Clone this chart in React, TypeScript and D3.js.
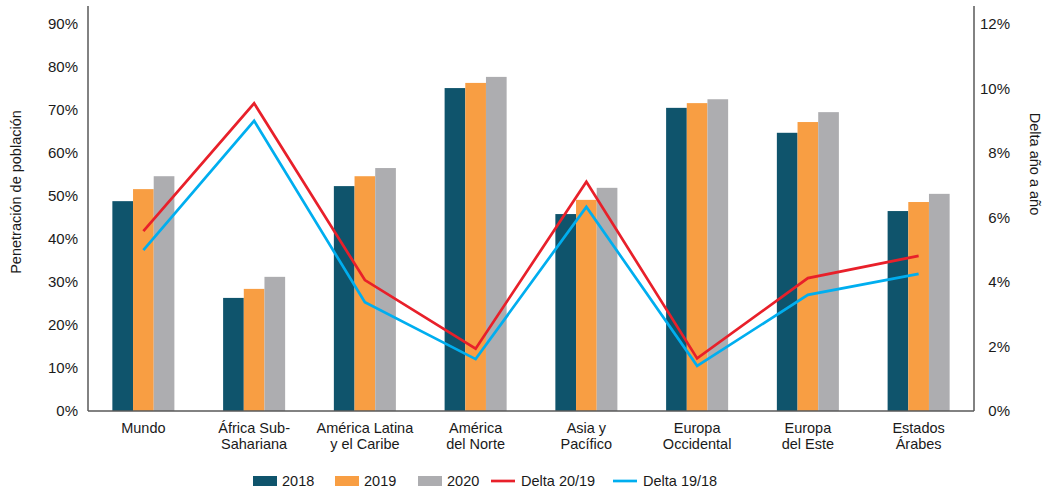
import React from "react";
import * as d3 from "d3";

// Regions, split into display lines for the category axis
const regions = [
  "Mundo",
  "África Sub-Sahariana",
  "América Latina y el Caribe",
  "América del Norte",
  "Asia y Pacífico",
  "Europa Occidental",
  "Europa del Este",
  "Estados Árabes",
];
const regionLines = [
  ["Mundo"],
  ["África Sub-", "Sahariana"],
  ["América Latina", "y el Caribe"],
  ["América", "del Norte"],
  ["Asia y", "Pacífico"],
  ["Europa", "Occidental"],
  ["Europa", "del Este"],
  ["Estados", "Árabes"],
];

// Population penetration by year
const years = ["2018", "2019", "2020"];
const pen2018 = [0.488, 0.263, 0.523, 0.751, 0.458, 0.705, 0.647, 0.465];
const pen2019 = [0.516, 0.284, 0.546, 0.763, 0.491, 0.716, 0.672, 0.486];
const pen2020 = [0.546, 0.312, 0.565, 0.777, 0.519, 0.725, 0.695, 0.505];

// Year-over-year deltas (right axis)
const delta2019 = [0.0558, 0.0954, 0.0406, 0.0193, 0.0711, 0.0163, 0.0412, 0.0481];
const delta1918 = [0.0499, 0.09, 0.0337, 0.0161, 0.0633, 0.014, 0.036, 0.0425];

const leftTicks = [0, 0.1, 0.2, 0.3, 0.4, 0.5, 0.6, 0.7, 0.8, 0.9];
const rightTicks = [0, 0.02, 0.04, 0.06, 0.08, 0.1, 0.12];

const barColors = ["#0F546C", "#F89E43", "#ADADB0"];
const lineColors = { d2019: "#E8202A", d1918: "#00AEEF" };

const W = 1043;
const H = 491;
const left = 88;
const right = 974;
const top = 6;
const bottom = 411;
const FONT = "'Liberation Sans', Arial, sans-serif";
const TEXT = "#1a1a1a";
const AXIS = "#595959";

export default function App() {
  const x = d3
    .scaleBand<string>()
    .domain(regions)
    .range([left, right])
    .paddingInner(0.44)
    .paddingOuter(0.22);
  const x1 = d3.scaleBand<string>().domain(years).range([0, x.bandwidth()]);
  const yL = d3.scaleLinear().domain([0, 0.9]).range([bottom, 24]);
  const yR = d3.scaleLinear().domain([0, 0.12]).range([bottom, 24]);

  const series = [pen2018, pen2019, pen2020];
  const cx = (i: number) => (x(regions[i]) as number) + x.bandwidth() / 2;
  const line = d3
    .line<number>()
    .x((_, i) => cx(i))
    .y((d) => yR(d));

  const fmtL = d3.format(".0%");

  const legend = [
    { type: "bar", label: "2018", color: barColors[0], x: 253, tx: 282 },
    { type: "bar", label: "2019", color: barColors[1], x: 335, tx: 364 },
    { type: "bar", label: "2020", color: barColors[2], x: 418, tx: 447 },
    { type: "line", label: "Delta 20/19", color: lineColors.d2019, x: 491, tx: 521 },
    { type: "line", label: "Delta 19/18", color: lineColors.d1918, x: 613, tx: 643 },
  ];

  return (
    <svg
      width={W}
      height={H}
      style={{ position: "absolute", left: 0, top: 0, background: "#fff" }}
      fontFamily={FONT}
    >
      {/* bars */}
      {regions.map((r, i) => (
        <g key={r} transform={`translate(${x(r)},0)`}>
          {years.map((yr, k) => (
            <rect
              key={yr}
              x={x1(yr)}
              y={yL(series[k][i])}
              width={x1.bandwidth()}
              height={bottom - yL(series[k][i])}
              fill={barColors[k]}
            />
          ))}
        </g>
      ))}

      {/* delta lines */}
      <path d={line(delta1918) ?? ""} fill="none" stroke={lineColors.d1918} strokeWidth={2.7} />
      <path d={line(delta2019) ?? ""} fill="none" stroke={lineColors.d2019} strokeWidth={2.7} />

      {/* axes */}
      <line x1={left} x2={left} y1={top} y2={bottom} stroke={AXIS} strokeWidth={1.5} />
      <line x1={right} x2={right} y1={top} y2={bottom} stroke={AXIS} strokeWidth={1.5} />
      <line x1={left} x2={right} y1={bottom} y2={bottom} stroke={AXIS} strokeWidth={1.5} />

      {leftTicks.map((t) => (
        <text key={t} x={78} y={yL(t)} dy="0.36em" textAnchor="end" fontSize={15} fill={TEXT}>
          {fmtL(t)}
        </text>
      ))}
      {rightTicks.map((t) => (
        <text key={t} x={1010} y={yR(t)} dy="0.36em" textAnchor="end" fontSize={15} fill={TEXT}>
          {fmtL(t)}
        </text>
      ))}

      {/* category labels */}
      {regionLines.map((lines, i) => (
        <text key={i} x={cx(i)} y={433} textAnchor="middle" fontSize={14.5} fill={TEXT}>
          {lines.map((l, j) => (
            <tspan key={j} x={cx(i)} dy={j === 0 ? 0 : 16}>
              {l}
            </tspan>
          ))}
        </text>
      ))}

      {/* axis titles */}
      <text
        transform="translate(21,192) rotate(-90)"
        textAnchor="middle"
        fontSize={14.5}
        fill={TEXT}
      >
        Penetración de población
      </text>
      <text
        transform="translate(1030,164) rotate(90)"
        textAnchor="middle"
        fontSize={14.5}
        fill={TEXT}
      >
        Delta año a año
      </text>

      {/* legend */}
      {legend.map((it) => (
        <g key={it.label}>
          {it.type === "bar" ? (
            <rect x={it.x} y={476} width={24} height={10} fill={it.color} />
          ) : (
            <line x1={it.x} x2={it.x + 24} y1={481} y2={481} stroke={it.color} strokeWidth={2.7} />
          )}
          <text x={it.tx} y={486} fontSize={14.5} fill={TEXT}>
            {it.label}
          </text>
        </g>
      ))}
    </svg>
  );
}
